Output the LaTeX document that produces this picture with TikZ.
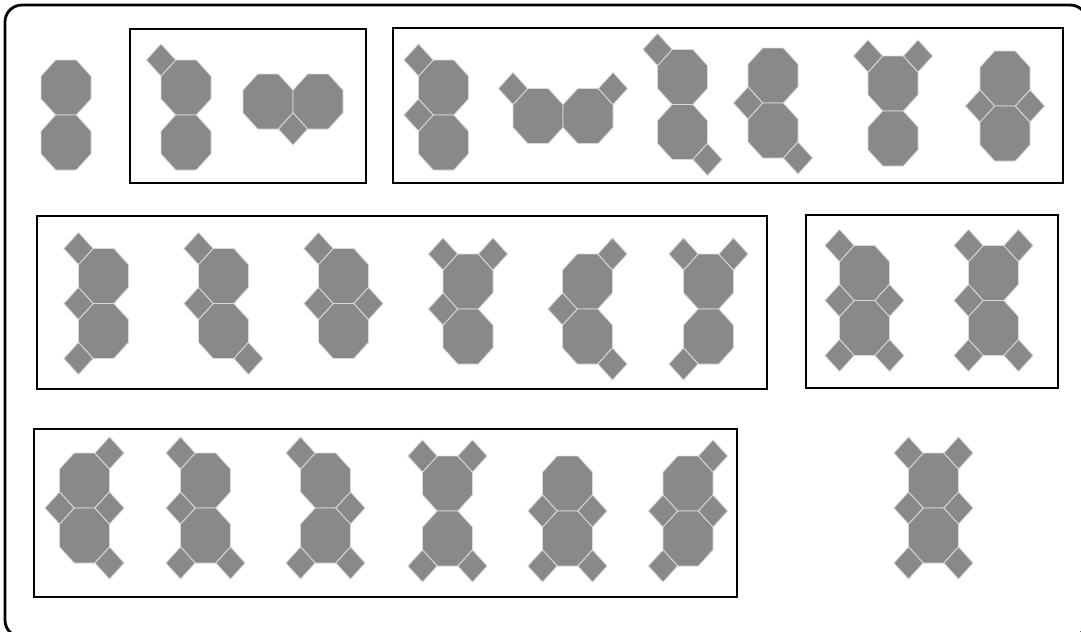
\documentclass[tikz,border=0pt]{standalone}
\usepackage{tikz}
\usetikzlibrary{calc}

\definecolor{cinza}{HTML}{898989}
\definecolor{borda}{HTML}{DADADA}

\begin{document}
\begin{tikzpicture}[x=0.025cm, y=-0.025cm,
  tile/.style={fill=cinza, draw=borda, line width=0.6pt},
  caixa/.style={draw=black, line width=2pt}]
  \clip (0,0) rectangle (1081,632);
  \useasboundingbox (0,0) rectangle (1081,632);

  % moldura externa
  \draw[line width=2pt, rounded corners=12pt] (5,5) rectangle (1087,637);

  % octogono e quadrado (esticados 1.1 na vertical)
  \def\oct#1{\filldraw[tile, shift={(#1)}] (25,11.39) -- (10.36,27.5) -- (-10.36,27.5) -- (-25,11.39)
    -- (-25,-11.39) -- (-10.36,-27.5) -- (10.36,-27.5) -- (25,-11.39) -- cycle;}
  \def\sq#1{\filldraw[tile, shift={(#1)}] (14.64,0) -- (0,16.11) -- (-14.64,0) -- (0,-16.11) -- cycle;}
  % peca: centro do octogono de cima, depois octogonos e quadrados (em meias-larguras)
  \def\peca#1#2#3#4{%
    \foreach \i/\j in {#3} {\oct{#1+25*\i,#2+27.5*\j}}
    \foreach \i/\j in {#4} {\sq{#1+25*\i,#2+27.5*\j}}}

  % caixas
  \draw[caixa] (130,29) rectangle (366,183);
  \draw[caixa] (393,28) rectangle (1063,183);
  \draw[caixa] (37,216) rectangle (767,389);
  \draw[caixa] (806,215) rectangle (1058,388);
  \draw[caixa] (34,429) rectangle (737,597);

  % linha 1
  \oct{66,87.5} \oct{66,142.5}
  \peca{186}{87.5}{0/0,0/2}{-1/-1}
  \peca{268}{101.5}{0/0,2/0}{1/1}
  \peca{443.5}{87.5}{0/0,0/2}{-1/-1,-1/1}
  \peca{538}{116}{0/0,2/0}{-1/-1,3/-1}
  \peca{682.5}{77}{0/0,0/2}{-1/-1,1/3}
  \peca{773}{75.5}{0/0,0/2}{-1/1,1/3}
  \peca{893}{83.5}{0/0,0/2}{-1/-1,1/-1}
  \peca{1005}{78.5}{0/0,0/2}{-1/1,1/1}

  % linha 2
  \peca{103.5}{276}{0/0,0/2}{-1/-1,-1/1,-1/3}
  \peca{223.5}{276}{0/0,0/2}{-1/-1,-1/1,1/3}
  \peca{343.5}{276}{0/0,0/2}{-1/-1,-1/1,1/1}
  \peca{468}{281.5}{0/0,0/2}{-1/-1,1/-1,-1/1}
  \peca{587.5}{281.5}{0/0,0/2}{1/-1,-1/1,1/3}
  \peca{708.5}{281.5}{0/0,0/2}{-1/-1,1/-1,-1/3}
  \peca{864.5}{273}{0/0,0/2}{-1/-1,-1/1,1/1,-1/3,1/3}
  \peca{993.5}{273}{0/0,0/2}{-1/-1,1/-1,-1/1,-1/3,1/3}

  % linha 3
  \peca{84.5}{480.5}{0/0,0/2}{1/-1,-1/1,1/1,1/3}
  \peca{205.5}{480.5}{0/0,0/2}{-1/-1,-1/1,-1/3,1/3}
  \peca{325.5}{480.5}{0/0,0/2}{-1/-1,1/1,-1/3,1/3}
  \peca{447.5}{483.5}{0/0,0/2}{-1/-1,1/-1,-1/3,1/3}
  \peca{567.5}{483.5}{0/0,0/2}{-1/1,1/1,-1/3,1/3}
  \peca{688}{483.5}{0/0,0/2}{1/-1,-1/1,1/1,-1/3}
  \peca{933.5}{480.5}{0/0,0/2}{-1/-1,1/-1,-1/1,1/1,-1/3,1/3}
\end{tikzpicture}
\end{document}
